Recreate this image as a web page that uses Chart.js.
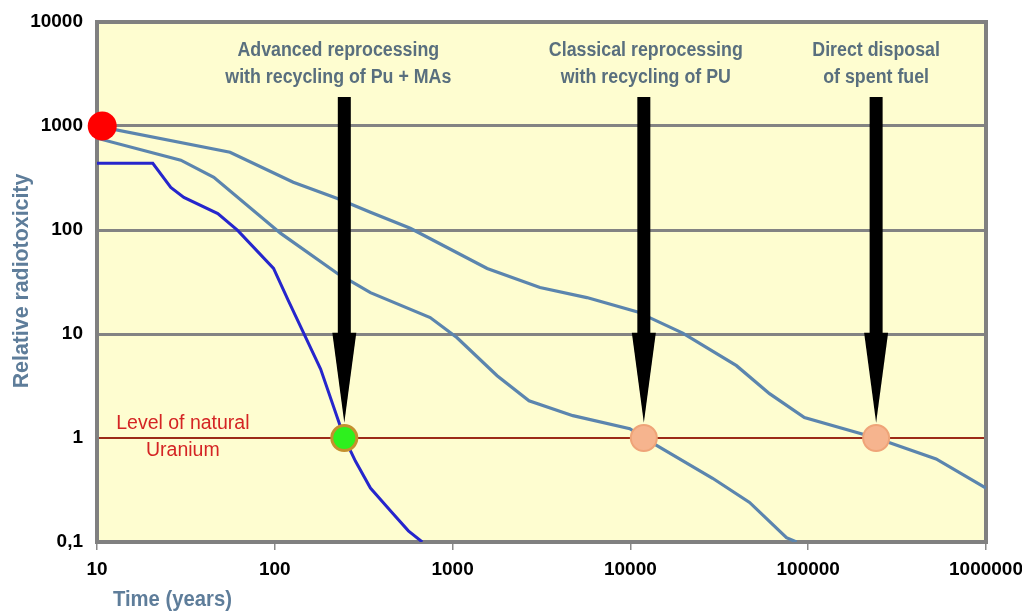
<!DOCTYPE html>
<html>
<head>
<meta charset="utf-8">
<script src="https://cdn.jsdelivr.net/npm/chart.js@4.4.1/dist/chart.umd.min.js"></script>
<style>
  html, body { margin: 0; padding: 0; background: #ffffff; }
  #wrap { width: 1022px; height: 614px; }
</style>
</head>
<body>
<div id="wrap"><canvas id="radiotox"></canvas></div>
<script>
// decades on both axes
const xTicks = [10, 100, 1000, 10000, 100000, 1000000];
const yTicks = [0.1, 1, 10, 100, 1000, 10000];
const yTickLabels = ["0,1", "1", "10", "100", "1000", "10000"];

// direct disposal of spent fuel
const directX = [10, 56, 127, 225, 345, 578, 1565, 3100, 5690, 10860, 19700, 39500, 60600, 95200, 241000, 524000, 1000000];
const directY = [1000, 560, 288, 201, 148, 104, 42.7, 28, 22.4, 16.4, 10.2, 4.96, 2.67, 1.57, 1.0, 0.63, 0.33];

// classical reprocessing (Pu recycled)
const classicX = [10, 29.6, 45.4, 108, 225, 345, 748, 1060, 1780, 2690, 4750, 9930, 11900, 29000, 46800, 75500, 86000];
const classicY = [763, 469, 321, 92.7, 38.2, 25, 14.4, 9.2, 3.97, 2.28, 1.64, 1.23, 1.0, 0.41, 0.24, 0.11, 0.1];

// advanced reprocessing (Pu + MAs recycled)
const advancedX = [10, 20.6, 26, 30.8, 47.8, 61.8, 98.4, 119, 181, 246, 284, 345, 447, 564, 675];
const advancedY = [438, 438, 257, 206, 144, 99, 42.7, 21, 4.6, 1.0, 0.60, 0.33, 0.20, 0.128, 0.1];

// circles: start point and crossings of the natural uranium level
const markerX = [10.7, 246, 11900, 241000];
const markerY = [1000, 1, 1, 1];

// arrows pointing at the crossings
const arrowX = [246, 11900, 241000];
const arrowTop = 1900;
const arrowHeadBase = 10.3;
const arrowTip = 1.4;
const arrowLabels = [
  ["Advanced reprocessing", "with recycling of Pu + MAs"],
  ["Classical reprocessing", "with recycling of PU"],
  ["Direct disposal", "of spent fuel"]
];
const labelShift = [-6, 2, 0];

const FONT = "'Liberation Sans', Arial, sans-serif";

function pts(xs, ys) {
  return xs.map((x, i) => ({ x: x, y: ys[i] }));
}

function drawText(ctx, text, x, y, font, color, sx, align, rot) {
  ctx.save();
  ctx.font = font;
  ctx.fillStyle = color;
  ctx.textAlign = align || 'center';
  ctx.textBaseline = 'middle';
  ctx.translate(x, y);
  if (rot) ctx.rotate(rot);
  ctx.scale(sx, 1);
  ctx.fillText(text, 0, 0);
  ctx.restore();
}

const decor = {
  id: 'decor',
  beforeDraw(chart) {
    const { ctx, chartArea: a } = chart;
    ctx.save();
    ctx.fillStyle = '#fefdd0';
    ctx.fillRect(a.left, a.top, a.right - a.left, a.bottom - a.top);
    ctx.restore();
  },
  beforeDatasetsDraw(chart) {
    const { ctx, chartArea: a } = chart;
    ctx.save();
    ctx.strokeStyle = '#808080';
    ctx.lineWidth = 4;
    ctx.strokeRect(a.left, a.top, a.right - a.left, a.bottom - a.top);
    ctx.restore();
  },
  afterDatasetsDraw(chart) {
    const { ctx } = chart;
    const xs = chart.scales.x, ys = chart.scales.y;
    const top = ys.getPixelForValue(arrowTop);
    const base = ys.getPixelForValue(arrowHeadBase);
    const tip = ys.getPixelForValue(arrowTip);
    ctx.save();
    ctx.fillStyle = '#000000';
    arrowX.forEach((v, i) => {
      const px = xs.getPixelForValue(v);
      ctx.fillRect(px - 6.5, top, 13, base - top + 1);
      ctx.beginPath();
      ctx.moveTo(px - 12, base);
      ctx.lineTo(px + 12, base);
      ctx.lineTo(px, tip);
      ctx.closePath();
      ctx.fill();
      const tx = px + labelShift[i];
      drawText(ctx, arrowLabels[i][0], tx, 50, 'bold 20px ' + FONT, '#596f7e', 0.89);
      drawText(ctx, arrowLabels[i][1], tx, 77, 'bold 20px ' + FONT, '#596f7e', 0.89);
    });
    ctx.restore();

    // natural uranium level label
    const ux = xs.getPixelForValue(30.4);
    const uy = ys.getPixelForValue(1);
    drawText(ctx, 'Level of natural', ux, uy - 14, '19.5px ' + FONT, '#d42424', 1);
    drawText(ctx, 'Uranium', ux, uy + 13, '19.5px ' + FONT, '#d42424', 1);
  },
  afterDraw(chart) {
    const { ctx, chartArea: a } = chart;
    drawText(ctx, 'Time (years)', a.left + 16, 600, 'bold 22px ' + FONT, '#5e7d9a', 0.92, 'left');
    drawText(ctx, 'Relative radiotoxicity', 22, (a.top + a.bottom) / 2 - 1, 'bold 22px ' + FONT, '#5e7d9a', 0.97, 'center', -Math.PI / 2);
  }
};

const config_radiotox = {
  type: 'line',
  data: {
    datasets: [
      {
        label: 'markers',
        type: 'scatter',
        data: pts(markerX, markerY),
        showLine: false,
        clip: false,
        order: 0,
        pointRadius: [14.5, 12.5, 13, 13],
        pointBorderWidth: [0, 3, 2, 2],
        pointBackgroundColor: ['#ff0000', '#2ef01e', '#f6b48e', '#f6b48e'],
        pointBorderColor: ['#ff0000', '#c4902e', '#efa478', '#efa478']
      },
      {
        label: 'Direct disposal',
        data: pts(directX, directY),
        borderColor: '#5b85ae',
        borderWidth: 3.2,
        pointRadius: 0,
        order: 1
      },
      {
        label: 'Classical reprocessing',
        data: pts(classicX, classicY),
        borderColor: '#5b85ae',
        borderWidth: 3.2,
        pointRadius: 0,
        order: 1
      },
      {
        label: 'Advanced reprocessing',
        data: pts(advancedX, advancedY),
        borderColor: '#2626cc',
        borderWidth: 3,
        pointRadius: 0,
        order: 1
      }
    ]
  },
  options: {
    responsive: true,
    maintainAspectRatio: false,
    animation: false,
    devicePixelRatio: 1,
    layout: { padding: { top: 22, right: 36, left: 0, bottom: 0 } },
    plugins: {
      legend: { display: false },
      tooltip: { enabled: false }
    },
    scales: {
      x: {
        type: 'logarithmic',
        position: 'bottom',
        min: 10,
        max: 1000000,
        afterBuildTicks: (s) => { s.ticks = xTicks.map(v => ({ value: v })); },
        afterFit: (s) => { s.height = 72; s.paddingLeft = 0; s.paddingRight = 0; },
        ticks: {
          callback: (v) => String(v),
          font: { family: FONT, size: 19, weight: 'bold' },
          color: '#000000',
          padding: 8,
          maxRotation: 0,
          autoSkip: false
        },
        grid: {
          drawOnChartArea: false,
          drawTicks: true,
          tickLength: 8,
          color: '#8a8a8a',
          lineWidth: 1.5
        },
        border: { display: false }
      },
      y: {
        type: 'logarithmic',
        min: 0.1,
        max: 10000,
        afterBuildTicks: (s) => { s.ticks = yTicks.map(v => ({ value: v })); },
        afterFit: (s) => { s.width = 97; s.paddingTop = 0; s.paddingBottom = 0; },
        ticks: {
          callback: (v) => yTickLabels[yTicks.indexOf(v)],
          font: { family: FONT, size: 19, weight: 'bold' },
          color: '#000000',
          padding: 14
        },
        grid: {
          drawTicks: false,
          color: (c) => {
            const v = c.tick && c.tick.value;
            if (v === 1) return '#9c2b17';
            if (v === 10 || v === 100 || v === 1000) return '#838383';
            return 'rgba(0,0,0,0)';
          },
          lineWidth: (c) => (c.tick && c.tick.value === 1 ? 2 : 3)
        },
        border: { display: false }
      }
    }
  },
  plugins: [decor]
};

const ctx_radiotox = document.getElementById('radiotox').getContext('2d');
const chart_radiotox = new Chart(ctx_radiotox, config_radiotox);
</script>
</body>
</html>
